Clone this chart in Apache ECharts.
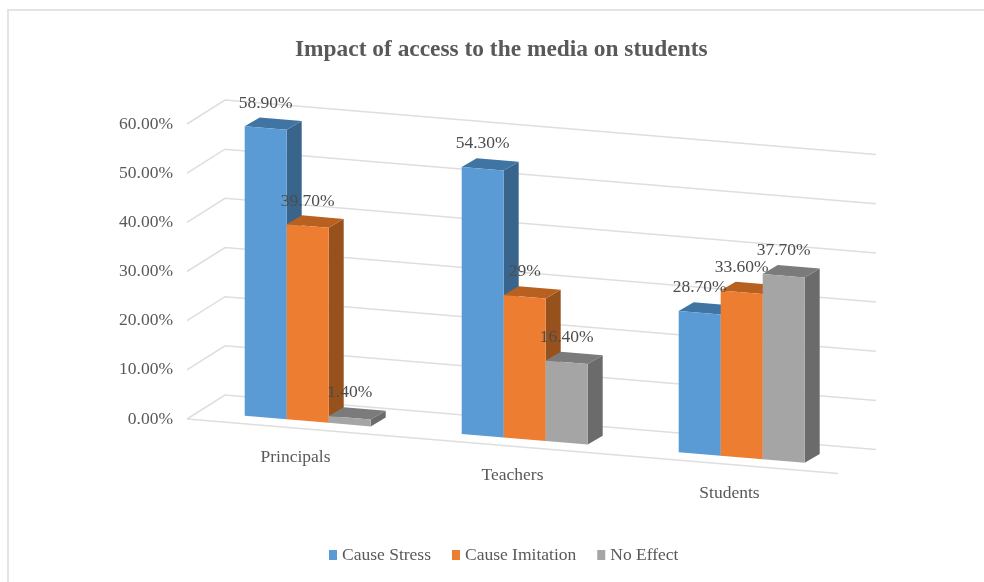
<!DOCTYPE html>
<html>
<head>
<meta charset="utf-8">
<script src="https://cdn.jsdelivr.net/npm/echarts@6/dist/echarts.min.js"></script>
<style>
  html, body { margin: 0; background: #fff; }
  #chart { width: 984px; height: 582px; }
</style>
</head>
<body>
<div id="chart"></div>
<script>
const categories = ['Principals', 'Teachers', 'Students']
const causeStress = [58.9, 54.3, 28.7]
const causeImitation = [39.7, 29, 33.6]
const noEffect = [1.4, 16.4, 37.7]
const stressLabels = ['58.90%', '54.30%', '28.70%']
const imitationLabels = ['39.70%', '29%', '33.60%']
const noEffectLabels = ['1.40%', '16.40%', '37.70%']
const ticks = [0, 10, 20, 30, 40, 50, 60]

const FONT = '"Liberation Serif", serif'
const TEXT = '#595959'
const GRID = { left: 187, top: 124, width: 651, height: 295 }

// the chart is a 3D column look: the floor runs downhill to the right
const SLOPE = 0.0838
const WALL = [38, -24]
const BAR_FRONT = [12.2, -8]
const BAR_SIDE = [15, -8.8]
const BAR_RATIO = 42 / 217

const shear = (x, y) => [x, y + (x - GRID.left) * SLOPE]

const wallRender = (params, api) => {
  const y = api.coord([0, api.value(0)])[1]
  const left = GRID.left
  const right = left + GRID.width
  const points = [
    shear(left, y),
    [left + WALL[0], y + WALL[1]],
    [right + WALL[0], y + WALL[1] + GRID.width * SLOPE]
  ]
  const children = [{
    type: 'polyline',
    shape: { points },
    style: { stroke: '#dedede', lineWidth: 1.5, fill: null }
  }]
  // floor front edge
  if (api.value(0) === 0) {
    children.push({
      type: 'line',
      shape: { x1: left, y1: y, x2: right, y2: y + GRID.width * SLOPE },
      style: { stroke: '#dedede', lineWidth: 1.5 }
    })
  }
  return { type: 'group', children }
}

const categoryRender = (params, api) => {
  const p = api.coord([api.value(0), 0])
  const [x, y] = shear(p[0], p[1])
  return {
    type: 'text',
    style: {
      text: categories[api.value(0)],
      x,
      y: y + 29,
      align: 'center',
      verticalAlign: 'middle',
      fill: TEXT,
      font: '17.5px ' + FONT
    }
  }
}

// one custom series per group, slot is its place inside the category
const barRender = (slot, colors, labels) => (params, api) => {
  const idx = api.value(0)
  const base = api.coord([idx, 0])
  const top = api.coord([idx, api.value(1)])
  const w = api.size([1, 0])[0] * BAR_RATIO
  const x1 = base[0] + BAR_FRONT[0] + (slot - 1.5) * w
  const x2 = x1 + w
  const h = base[1] - top[1]
  const bl = shear(x1, base[1] + BAR_FRONT[1])
  const br = shear(x2, base[1] + BAR_FRONT[1])
  const tl = [bl[0], bl[1] - h]
  const tr = [br[0], br[1] - h]
  const off = p => [p[0] + BAR_SIDE[0], p[1] + BAR_SIDE[1]]
  return {
    type: 'group',
    children: [
      { type: 'polygon', shape: { points: [tr, br, off(br), off(tr)] }, style: { fill: colors[1] } },
      { type: 'polygon', shape: { points: [tl, tr, off(tr), off(tl)] }, style: { fill: colors[2] } },
      { type: 'polygon', shape: { points: [tl, tr, br, bl] }, style: { fill: colors[0] } },
      {
        type: 'text',
        z2: 100,
        style: {
          text: labels[idx],
          x: (tl[0] + tr[0]) / 2,
          y: (tl[1] + tr[1]) / 2 - 25,
          align: 'center',
          verticalAlign: 'middle',
          fill: '#4d4d4d',
          font: '17.5px ' + FONT
        }
      }
    ]
  }
}

const barSeries = (name, values, slot, colors, labels) => ({
  name,
  type: 'custom',
  itemStyle: { color: colors[0] },
  encode: { x: 0, y: 1 },
  data: values.map((v, i) => [i, v]),
  renderItem: barRender(slot, colors, labels)
})

const chart = echarts.init(document.getElementById('chart'))

chart.setOption({
  animation: false,
  title: {
    text: 'Impact of access to the media on students',
    left: 290,
    top: 33,
    textStyle: { fontFamily: FONT, fontSize: 23.4, fontWeight: 'bold', color: '#595959' }
  },
  legend: {
    left: 324,
    top: 541,
    icon: 'rect',
    itemWidth: 8,
    itemHeight: 10,
    itemGap: 21,
    data: ['Cause Stress', 'Cause Imitation', 'No Effect'],
    textStyle: { fontFamily: FONT, fontSize: 17.5, color: TEXT }
  },
  grid: GRID,
  xAxis: {
    type: 'category',
    data: categories,
    axisLine: { show: false },
    axisTick: { show: false },
    axisLabel: { show: false }
  },
  yAxis: {
    type: 'value',
    min: 0,
    max: 60,
    interval: 10,
    axisLine: { show: false },
    axisTick: { show: false },
    splitLine: { show: false },
    axisLabel: {
      margin: 14,
      formatter: v => v.toFixed(2) + '%',
      fontFamily: FONT,
      fontSize: 17.5,
      color: TEXT
    }
  },
  // only the top and left edges of the frame are in the picture
  graphic: [{
    type: 'polyline',
    silent: true,
    z: -1,
    shape: { points: [[8, 582], [8, 10], [984, 10]] },
    style: { fill: null, stroke: '#e4e4e4', lineWidth: 2 }
  }],
  series: [
    {
      type: 'custom',
      silent: true,
      z: 1,
      data: ticks.map(t => [t]),
      encode: { y: 0 },
      renderItem: wallRender
    },
    {
      type: 'custom',
      silent: true,
      z: 1,
      data: categories.map((c, i) => [i]),
      encode: { x: 0 },
      renderItem: categoryRender
    },
    barSeries('Cause Stress', causeStress, 0, ['#5b9bd5', '#39658c', '#3f74a3'], stressLabels),
    barSeries('Cause Imitation', causeImitation, 1, ['#ed7d31', '#97511c', '#b8601f'], imitationLabels),
    barSeries('No Effect', noEffect, 2, ['#a5a5a5', '#6b6b6b', '#7b7b7b'], noEffectLabels)
  ]
})

window.addEventListener('resize', () => {
  chart && chart.resize()
})
</script>
</body>
</html>
